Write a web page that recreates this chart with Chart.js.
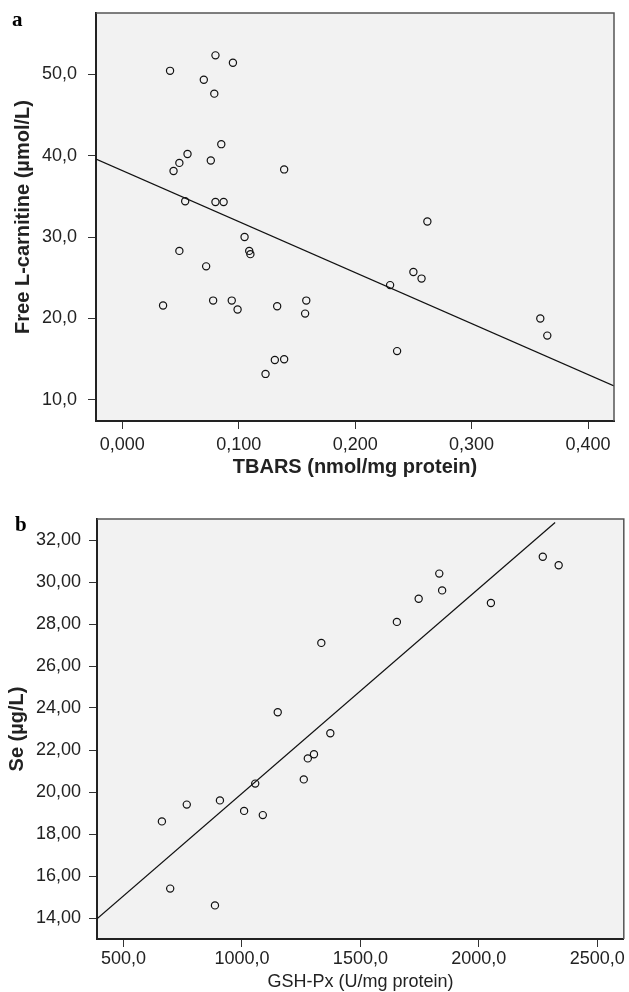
<!DOCTYPE html>
<html>
<head>
<meta charset="utf-8">
<script src="https://cdn.jsdelivr.net/npm/chart.js@4/dist/chart.umd.min.js"></script>
<style>
  html, body { margin: 0; padding: 0; background: #fff; }
  #wrap { position: relative; width: 629px; height: 992px; }
  .panel { position: absolute; left: 0; width: 629px; }
  #boxA { top: 0; height: 490px; }
  #boxB { top: 490px; height: 502px; }
  .tag { position: absolute; font-family: "Liberation Serif", "DejaVu Serif", serif; font-weight: bold; font-size: 21px; line-height: 1; }
</style>
</head>
<body>
<div id="wrap">
  <div class="panel" id="boxA"><canvas id="chartA"></canvas></div>
  <div class="panel" id="boxB"><canvas id="chartB"></canvas></div>
  <div class="tag" style="left:12px; top:9px;">a</div>
  <div class="tag" style="left:15px; top:514px;">b</div>
</div>
<script>
// panel a: TBARS vs free L-carnitine
const tbars = [0.041, 0.080, 0.095, 0.070, 0.079, 0.085, 0.056, 0.049, 0.044, 0.076, 0.139, 0.054, 0.080, 0.087,
  0.105, 0.049, 0.109, 0.110, 0.072, 0.035, 0.078, 0.094, 0.099, 0.133, 0.158, 0.157, 0.131, 0.139, 0.123,
  0.262, 0.250, 0.257, 0.230, 0.236, 0.359, 0.365];
const carnitine = [50.4, 52.3, 51.4, 49.3, 47.6, 41.4, 40.2, 39.1, 38.1, 39.4, 38.3, 34.4, 34.3, 34.3,
  30.0, 28.3, 28.3, 27.9, 26.4, 21.6, 22.2, 22.2, 21.1, 21.5, 22.2, 20.6, 14.9, 15.0, 13.2,
  31.9, 25.7, 24.9, 24.1, 16.0, 20.0, 17.9];
const tbarsTicks = [0, 0.1, 0.2, 0.3, 0.4];
const carnitineTicks = [10, 20, 30, 40, 50];
const fitA = { intercept: 38.15, slope: -62.6 };

// panel b: GSH-Px vs Se
const gshpx = [662, 697, 767, 886, 907, 1009, 1056, 1088, 1151, 1261, 1278, 1304, 1335, 1373,
  1654, 1746, 1833, 1845, 2051, 2270, 2337];
const selenium = [18.6, 15.4, 19.4, 14.6, 19.6, 19.1, 20.4, 18.9, 23.8, 20.6, 21.6, 21.8, 27.1, 22.8,
  28.1, 29.2, 30.4, 29.6, 29.0, 31.2, 30.8];
const gshpxTicks = [500, 1000, 1500, 2000, 2500];
const seleniumTicks = [14, 16, 18, 20, 22, 24, 26, 28, 30, 32];
const fitB = { intercept: 10.18, slope: 0.009757, end: 2322 };

const FONT = "'Liberation Sans', Arial, sans-serif";

const frame = {
  id: "frame",
  beforeDraw(chart) {
    const a = chart.chartArea, c = chart.ctx;
    c.save();
    c.fillStyle = "#f2f2f2";
    c.fillRect(a.left, a.top, a.right - a.left, a.bottom - a.top);
    c.restore();
  },
  afterDraw(chart) {
    const a = chart.chartArea, c = chart.ctx;
    c.save();
    c.strokeStyle = "#555";
    c.lineWidth = 1.5;
    c.beginPath();
    c.moveTo(a.left, a.top);
    c.lineTo(a.right, a.top);
    c.lineTo(a.right, a.bottom);
    c.stroke();
    c.restore();
  }
};

function comma(v, d) { return v.toFixed(d).replace(".", ","); }

function makeChart(id, o) {
  const pts = o.xs.map((x, i) => ({ x, y: o.ys[i] }));
  const x1 = o.lineEnd != null ? o.lineEnd : o.xMax;
  const line = [
    { x: o.xMin, y: o.fit.intercept + o.fit.slope * o.xMin },
    { x: x1, y: o.fit.intercept + o.fit.slope * x1 }
  ];
  return new Chart(document.getElementById(id), {
    type: "scatter",
    data: {
      datasets: [
        { data: pts, pointRadius: 3.6, pointBorderWidth: 1.2, pointBorderColor: "#111",
          pointBackgroundColor: "rgba(0,0,0,0)", showLine: false },
        { data: line, showLine: true, borderColor: "#111", borderWidth: 1.2, pointRadius: 0 }
      ]
    },
    options: {
      responsive: true,
      maintainAspectRatio: false,
      animation: false,
      events: [],
      layout: { padding: o.pad },
      plugins: { legend: { display: false }, tooltip: { enabled: false } },
      scales: {
        x: {
          type: "linear", min: o.xMin, max: o.xMax,
          afterBuildTicks: s => { s.ticks = o.xTicks.map(v => ({ value: v })); },
          afterFit: s => { s.height = o.xAxisH; s.paddingLeft = 0; s.paddingRight = 0; },
          grid: { drawOnChartArea: false, drawTicks: true, tickLength: 8, color: "#333", lineWidth: 1 },
          border: { display: true, color: "#222", width: 2 },
          ticks: { color: "#222", padding: o.xTickPad, maxRotation: 0, font: { family: FONT, size: 18 },
            callback: v => comma(v, o.xDec) },
          title: { display: true, text: o.xTitle, color: "#222", padding: { top: 0, bottom: o.xTitlePad },
            font: { family: FONT, size: o.xTitleSize, weight: o.xBold ? "bold" : "normal" } }
        },
        y: {
          type: "linear", min: o.yMin, max: o.yMax,
          afterBuildTicks: s => { s.ticks = o.yTicks.map(v => ({ value: v })); },
          afterFit: s => { s.width = o.yAxisW; s.paddingTop = 0; s.paddingBottom = 0; },
          grid: { drawOnChartArea: false, drawTicks: true, tickLength: 8, color: "#333", lineWidth: 1 },
          border: { display: true, color: "#222", width: 2 },
          ticks: { color: "#222", padding: o.yTickPad, font: { family: FONT, size: 18 },
            callback: v => comma(v, o.yDec) },
          title: { display: true, text: o.yTitle, color: "#222", padding: { top: o.yTitlePad, bottom: 0 },
            font: { family: FONT, size: 20, weight: "bold" } }
        }
      }
    },
    plugins: [frame]
  });
}

makeChart("chartA", {
  xs: tbars, ys: carnitine, fit: fitA,
  xMin: -0.0226, xMax: 0.4223, yMin: 7.42, yMax: 57.5,
  xTicks: tbarsTicks, yTicks: carnitineTicks, xDec: 3, yDec: 1,
  xTitle: "TBARS (nmol/mg protein)", yTitle: "Free L-carnitine (µmol/L)", xBold: true, xTitleSize: 20,
  pad: { top: 13, right: 15, left: 0, bottom: 0 }, xAxisH: 69, yAxisW: 96,
  xTitlePad: 11, yTitlePad: 11, yTickPad: 11, xTickPad: 5
});

makeChart("chartB", {
  xs: gshpx, ys: selenium, fit: fitB, lineEnd: fitB.end,
  xMin: 388, xMax: 2612, yMin: 13.0, yMax: 33.0,
  xTicks: gshpxTicks, yTicks: seleniumTicks, xDec: 1, yDec: 2,
  xTitle: "GSH-Px (U/mg protein)", yTitle: "Se (µg/L)", xBold: false, xTitleSize: 18,
  pad: { top: 29, right: 4, left: 0, bottom: 0 }, xAxisH: 53, yAxisW: 97,
  xTitlePad: -1, yTitlePad: 5, yTickPad: 8, xTickPad: 1
});
</script>
</body>
</html>
